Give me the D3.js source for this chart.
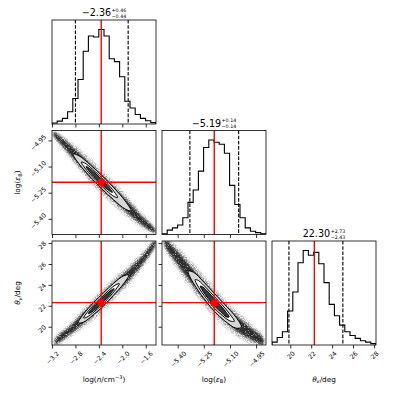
<!DOCTYPE html>
<html>
<head>
<meta charset="utf-8">
<script src="https://cdn.jsdelivr.net/npm/d3@7"></script>
<style>
  body { margin: 0; background: #fff; }
  svg { display: block; font-family: "DejaVu Sans", sans-serif; }
</style>
</head>
<body>
<svg id="chart" width="397" height="397"></svg>
<script>
// ---- values ----
const rangeN = [-3.2, -1.425];   // log(n/cm^-3)
const rangeE = [-5.49, -4.893];  // log(eps_B)
const rangeT = [18.25, 28.2];    // theta_v / deg

const ticksN = [-3.2, -2.8, -2.4, -2.0, -1.6];
const ticksE = [-5.40, -5.25, -5.10, -4.95];
const ticksT = [20, 22, 24, 26, 28];

const truths = [-2.36, -5.19, 22.30];
const medians = [-2.36, -5.19, 22.30];
const errUp = [0.46, 0.14, 2.73];
const errLo = [0.44, 0.14, 2.43];

// 20-bin histograms, relative heights
const histN = [0.01, 0.03, 0.06, 0.13, 0.27, 0.47, 0.77, 0.93, 0.92, 1.00,
               0.93, 0.69, 0.66, 0.50, 0.24, 0.17, 0.10, 0.06, 0.035, 0.015];
const histE = [0.007, 0.046, 0.07, 0.10, 0.177, 0.34, 0.47, 0.67, 0.92, 1.00,
               0.975, 0.954, 0.86, 0.52, 0.318, 0.177, 0.07, 0.035, 0.02, 0.007];
const histT = [0.03, 0.08, 0.14, 0.36, 0.56, 0.87, 1.00, 0.95, 0.98, 0.86,
               0.66, 0.43, 0.31, 0.21, 0.14, 0.10, 0.07, 0.045, 0.03, 0.015];

// 2D panels: sample cloud as ridge [x, y, half-thickness in y units]
const cloudNE = [
  [-3.17, -4.912, 0.012], [-3.00, -4.966, 0.030], [-2.80, -5.035, 0.042],
  [-2.60, -5.105, 0.052], [-2.36, -5.186, 0.056], [-2.10, -5.270, 0.052],
  [-1.90, -5.335, 0.045], [-1.70, -5.400, 0.034], [-1.44, -5.470, 0.012]
];
const contoursNE = [
  [[-2.84, -5.028, 0], [-2.74, -5.061, 0.023], [-2.54, -5.127, 0.035], [-2.345, -5.191, 0.038],
   [-2.15, -5.255, 0.035], [-1.95, -5.321, 0.023], [-1.85, -5.354, 0]],
  [[-2.70, -5.074, 0], [-2.64, -5.094, 0.014], [-2.51, -5.137, 0.022], [-2.39, -5.176, 0.024],
   [-2.27, -5.216, 0.022], [-2.14, -5.258, 0.014], [-2.08, -5.278, 0]],
  [[-2.62, -5.100, 0], [-2.575, -5.115, 0.008], [-2.485, -5.145, 0.013], [-2.395, -5.174, 0.014],
   [-2.305, -5.204, 0.013], [-2.215, -5.233, 0.008], [-2.17, -5.248, 0]]
];

const cloudNT = [
  [-3.144, 18.60, 0.30], [-2.888, 19.68, 0.50], [-2.661, 20.83, 0.70],
  [-2.37, 22.35, 0.85], [-2.12, 23.75, 0.80], [-1.864, 25.09, 0.70],
  [-1.642, 26.48, 0.55], [-1.437, 28.01, 0.30]
];
const contoursNT = [
  [[-2.75, 20.38, 0], [-2.665, 20.81, 0.38], [-2.495, 21.70, 0.57], [-2.32, 22.63, 0.62],
   [-2.15, 23.58, 0.57], [-1.98, 24.48, 0.38], [-1.89, 24.95, 0]],
  [[-2.66, 20.84, 0], [-2.60, 21.15, 0.22], [-2.48, 21.78, 0.35], [-2.355, 22.43, 0.38],
   [-2.23, 23.13, 0.35], [-2.11, 23.80, 0.22], [-2.05, 24.11, 0]],
  [[-2.58, 21.25, 0], [-2.535, 21.49, 0.13], [-2.45, 21.93, 0.21], [-2.36, 22.41, 0.23],
   [-2.27, 22.91, 0.21], [-2.185, 23.38, 0.13], [-2.14, 23.64, 0]]
];

const cloudET = [
  [-5.473, 28.01, 0.40], [-5.410, 26.76, 0.80], [-5.341, 25.33, 1.00],
  [-5.266, 23.80, 1.10], [-5.191, 22.36, 1.10], [-5.111, 21.02, 1.00],
  [-5.036, 19.97, 0.90], [-4.968, 19.20, 0.70], [-4.910, 18.63, 0.40]
];
const contoursET = [
  [[-5.34, 25.31, 0], [-5.31, 24.70, 0.52], [-5.25, 23.49, 0.78], [-5.19, 22.34, 0.85],
   [-5.13, 21.34, 0.78], [-5.065, 20.38, 0.52], [-5.035, 19.96, 0]],
  [[-5.30, 24.50, 0], [-5.28, 24.09, 0.32], [-5.235, 23.20, 0.50], [-5.19, 22.34, 0.55],
   [-5.145, 21.59, 0.50], [-5.10, 20.87, 0.32], [-5.075, 20.52, 0]],
  [[-5.27, 23.88, 0], [-5.255, 23.59, 0.20], [-5.225, 23.01, 0.31], [-5.19, 22.34, 0.34],
   [-5.155, 21.76, 0.31], [-5.12, 21.14, 0.20], [-5.105, 20.94, 0]]
];

// ---- layout ----
const LEFT = 52, TOP = 20, SIZE = 104, GAP_X = 6, GAP_Y = 6.5;
const TICK_FS = 6.3, LABEL_FS = 7.3;
const RED = "#ff0000";

const dims = [
  { range: rangeN, ticks: ticksN, fmt: d3.format(".1f"), hist: histN,
    label: [{ t: "log(" }, { t: "n", it: true }, { t: "/cm" }, { t: "\u22123", sup: true }, { t: ")" }] },
  { range: rangeE, ticks: ticksE, fmt: d3.format(".2f"), hist: histE,
    label: [{ t: "log(" }, { t: "\u03b5", it: true }, { t: "B", sub: true }, { t: ")" }] },
  { range: rangeT, ticks: ticksT, fmt: d3.format("d"), hist: histT,
    label: [{ t: "\u03b8", it: true }, { t: "v", sub: true, it: true }, { t: "/deg" }] }
];

const svg = d3.select("#chart");
const defs = svg.append("defs");

// speckle texture so the sample cloud reads as scattered points
function grainFilter(id, blur, gain, offset) {
  const f = defs.append("filter").attr("id", id)
    .attr("x", "-10%").attr("y", "-10%").attr("width", "120%").attr("height", "120%")
    .attr("color-interpolation-filters", "sRGB");
  f.append("feGaussianBlur").attr("in", "SourceGraphic").attr("stdDeviation", blur).attr("result", "soft");
  f.append("feTurbulence").attr("type", "fractalNoise").attr("baseFrequency", 1.1)
    .attr("numOctaves", 1).attr("seed", 7).attr("result", "noise");
  f.append("feColorMatrix").attr("in", "noise").attr("type", "matrix")
    .attr("values", `0 0 0 0 0  0 0 0 0 0  0 0 0 0 0  ${gain} 0 0 0 ${offset}`).attr("result", "speck");
  f.append("feComposite").attr("in", "soft").attr("in2", "speck").attr("operator", "in");
}
grainFilter("grainOuter", 1.2, 3.2, -1.2);
grainFilter("grainInner", 0.8, 3.0, -0.3);

const scalesX = dims.map(d => d3.scaleLinear().domain(d.range).range([0, SIZE]));
const scalesY = dims.map(d => d3.scaleLinear().domain(d.range).range([SIZE, 0]));

function panel(i, j) {
  const g = svg.append("g")
    .attr("transform", `translate(${LEFT + j * (SIZE + GAP_X)},${TOP + i * (SIZE + GAP_Y)})`);
  const id = `clip-${i}-${j}`;
  defs.append("clipPath").attr("id", id)
    .append("rect").attr("width", SIZE).attr("height", SIZE);
  const body = g.append("g").attr("clip-path", `url(#${id})`);
  return { g, body };
}

function frame(g) {
  g.append("rect").attr("width", SIZE).attr("height", SIZE)
    .attr("fill", "none").attr("stroke", "#000").attr("stroke-width", 0.8);
}

// write text with italic / super / subscript parts
function rich(text, parts, size) {
  let shift = 0;
  parts.forEach(p => {
    const small = p.sup || p.sub;
    const target = p.sup ? -0.38 * size : p.sub ? 0.22 * size : 0;
    text.append("tspan")
      .attr("dy", target - shift)
      .attr("font-size", small ? size * 0.7 : size)
      .attr("font-style", p.it ? "italic" : "normal")
      .text(p.t);
    shift = target;
  });
}

function bottomAxis(g, j, showLabels) {
  const ax = g.append("g").attr("transform", `translate(0,${SIZE})`)
    .call(d3.axisBottom(scalesX[j]).tickValues(dims[j].ticks).tickSize(3.5).tickSizeOuter(0)
      .tickFormat(showLabels ? dims[j].fmt : ""));
  ax.select(".domain").remove();
  ax.selectAll(".tick line").attr("stroke-width", 0.8);
  ax.selectAll("text").attr("font-size", TICK_FS).attr("font-family", "DejaVu Sans")
    .each(function () {
      const half = (this.getComputedTextLength() + TICK_FS * 0.75) * 0.7071 / 2;
      d3.select(this).attr("y", null).attr("dy", null)
        .attr("text-anchor", "middle").attr("dominant-baseline", "central")
        .attr("transform", `translate(0,${5.5 + half}) rotate(-45)`);
    });
}

function leftAxis(g, i, showLabels) {
  const ax = g.append("g")
    .call(d3.axisLeft(scalesY[i]).tickValues(dims[i].ticks).tickSize(3.5).tickSizeOuter(0)
      .tickFormat(showLabels ? dims[i].fmt : ""));
  ax.select(".domain").remove();
  ax.selectAll(".tick line").attr("stroke-width", 0.8);
  ax.selectAll("text").attr("font-size", TICK_FS).attr("font-family", "DejaVu Sans")
    .each(function () {
      const half = (this.getComputedTextLength() + TICK_FS * 0.75) * 0.7071 / 2;
      d3.select(this).attr("x", null).attr("dy", null)
        .attr("text-anchor", "middle").attr("dominant-baseline", "central")
        .attr("transform", `translate(${-(5.5 + half)},1.5) rotate(-45)`);
    });
}

// closed band around a ridge, thickness measured along y
function bandPath(pts, sx, sy, k) {
  const upper = pts.map(([x, y, w]) => [sx(x), sy(y + w * k)]);
  let lower = pts.map(([x, y, w]) => [sx(x), sy(y - w * k)]).reverse();
  if (pts[0][2] === 0) lower = lower.slice(1, -1);
  return d3.line().curve(d3.curveCatmullRomClosed.alpha(0.5))(upper.concat(lower));
}

// ---- diagonal: 1D histograms ----
const fmt2 = d3.format(".2f");
dims.forEach((d, k) => {
  const { g, body } = panel(k, k);
  const x = scalesX[k];
  const n = d.hist.length;
  const step = (d.range[1] - d.range[0]) / n;
  const y = d3.scaleLinear().domain([0, 1.1 * d3.max(d.hist)]).range([SIZE, 0]);

  const pts = [[d.range[0], 0]];
  d.hist.forEach((h, b) => {
    pts.push([d.range[0] + b * step, h], [d.range[0] + (b + 1) * step, h]);
  });
  pts.push([d.range[1], 0]);
  body.append("path")
    .attr("d", d3.line().x(p => x(p[0])).y(p => y(p[1]))(pts))
    .attr("fill", "none").attr("stroke", "#000").attr("stroke-width", 1.1);

  [medians[k] - errLo[k], medians[k] + errUp[k]].forEach(q => {
    body.append("line").attr("x1", x(q)).attr("x2", x(q)).attr("y1", 0).attr("y2", SIZE)
      .attr("stroke", "#000").attr("stroke-width", 1.1).attr("stroke-dasharray", "3.6,1.6");
  });
  body.append("line").attr("x1", x(truths[k])).attr("x2", x(truths[k]))
    .attr("y1", 0).attr("y2", SIZE).attr("stroke", RED).attr("stroke-width", 1.4);

  frame(g);
  bottomAxis(g, k, k === 2);

  // title: median with asymmetric errors
  const tg = g.append("g");
  const main = tg.append("text").attr("y", -3.6).attr("font-size", 9.6).text(fmt2(medians[k]));
  const mw = main.node().getComputedTextLength();
  const up = tg.append("text").attr("x", mw + 0.5).attr("y", -8.4).attr("font-size", 4.8).text("+" + fmt2(errUp[k]));
  const lo = tg.append("text").attr("x", mw + 0.5).attr("y", -2.5).attr("font-size", 4.8).text(fmt2(-errLo[k]));
  const total = mw + 0.5 + Math.max(up.node().getComputedTextLength(), lo.node().getComputedTextLength());
  tg.attr("transform", `translate(${(SIZE - total) / 2},0)`);
});

// ---- lower triangle: 2D panels ----
const pairs = [
  { i: 1, j: 0, cloud: cloudNE, contours: contoursNE },
  { i: 2, j: 0, cloud: cloudNT, contours: contoursNT },
  { i: 2, j: 1, cloud: cloudET, contours: contoursET }
];
const levelFill = ["#d6d6d6", "#f3f3f3", "#3a3a3a"];

pairs.forEach(({ i, j, cloud, contours }) => {
  const { g, body } = panel(i, j);
  const x = scalesX[j], y = scalesY[i];

  body.append("path").attr("d", bandPath(cloud, x, y, 1.3))
    .attr("fill", "#000").attr("fill-opacity", 0.4).attr("filter", "url(#grainOuter)");
  body.append("path").attr("d", bandPath(cloud, x, y, 0.75))
    .attr("fill", "#111").attr("fill-opacity", 0.85).attr("filter", "url(#grainInner)");

  contours.forEach((c, l) => {
    body.append("path").attr("d", bandPath(c, x, y, 1))
      .attr("fill", levelFill[l]).attr("stroke", "#000").attr("stroke-width", 1);
  });

  body.append("line").attr("x1", x(truths[j])).attr("x2", x(truths[j]))
    .attr("y1", 0).attr("y2", SIZE).attr("stroke", RED).attr("stroke-width", 1.4);
  body.append("line").attr("y1", y(truths[i])).attr("y2", y(truths[i]))
    .attr("x1", 0).attr("x2", SIZE).attr("stroke", RED).attr("stroke-width", 1.4);
  body.append("rect")
    .attr("x", x(truths[j]) - 3.3).attr("y", y(truths[i]) - 3.3)
    .attr("width", 6.6).attr("height", 6.6).attr("fill", RED);

  frame(g);
  bottomAxis(g, j, i === 2);
  leftAxis(g, i, j === 0);
});

// ---- axis labels ----
dims.forEach((d, k) => {
  const t = svg.append("text")
    .attr("x", LEFT + k * (SIZE + GAP_X) + SIZE / 2)
    .attr("y", TOP + 2 * (SIZE + GAP_Y) + SIZE + 36.5)
    .attr("text-anchor", "middle");
  rich(t, d.label, LABEL_FS);
});
[1, 2].forEach(k => {
  const cy = TOP + k * (SIZE + GAP_Y) + SIZE / 2;
  const t = svg.append("text")
    .attr("transform", `translate(${LEFT - 32},${cy}) rotate(-90)`)
    .attr("text-anchor", "middle");
  rich(t, dims[k].label, LABEL_FS);
});
</script>
</body>
</html>
